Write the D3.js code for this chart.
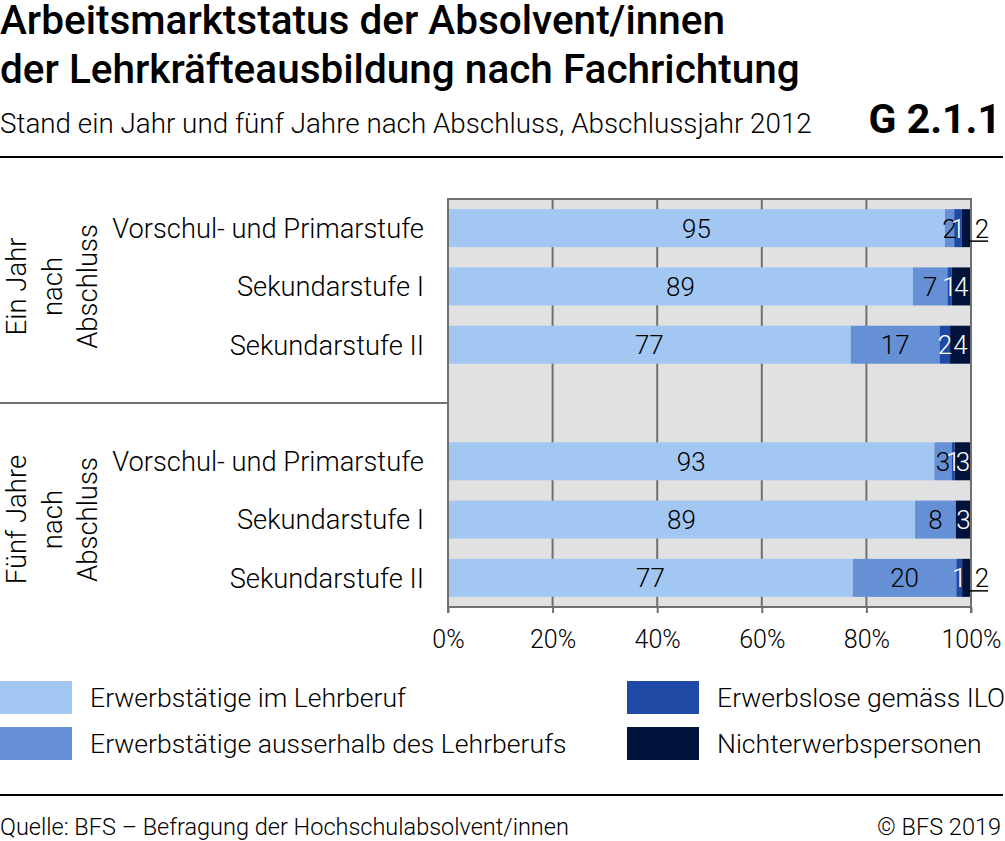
<!DOCTYPE html>
<html>
<head>
<meta charset="utf-8">
<script src="https://cdn.jsdelivr.net/npm/d3@7"></script>
<style>
  html, body { margin: 0; padding: 0; background: #fff; }
  svg { display: block; font-family: Roboto, "Noto Sans", sans-serif; }
</style>
</head>
<body>
<svg id="chart" width="1005" height="841"></svg>
<script>
// ---------- data ----------
const series = ["Erwerbstätige im Lehrberuf", "Erwerbstätige ausserhalb des Lehrberufs", "Erwerbslose gemäss ILO", "Nichterwerbspersonen"];
const colors = ["#a2c7f2", "#6690d6", "#1e4aa6", "#00133a"];
const textColors = ["#000", "#000", "#fff", "#fff"];
const groups = ["Ein Jahr|nach|Abschluss", "Fünf Jahre|nach|Abschluss"];
const categories = ["Vorschul- und Primarstufe", "Sekundarstufe I", "Sekundarstufe II"];
// values per row: [Lehrberuf, ausserhalb, erwerbslos, nichterwerb]
const einJahr = [
  [95.0, 1.8, 1.4, 1.8],
  [88.9, 6.6, 0.8, 3.7],
  [77.0, 17.0, 2.0, 4.0]
];
const fuenfJahre = [
  [93.0, 3.3, 0.6, 3.1],
  [89.3, 7.8, 0.0, 2.9],
  [77.4, 19.8, 1.1, 1.7]
];
const einJahrLabels = [["95","2","1","2"],["89","7","1","4"],["77","17","2","4"]];
const fuenfJahreLabels = [["93","3","1","3"],["89","8","","3"],["77","20","1","2"]];
const outsideLast = [[true,false,false],[false,false,true]];
const ticks = [0, 20, 40, 60, 80, 100];

// ---------- build rows ----------
const rows = [];
[einJahr, fuenfJahre].forEach((g, gi) => {
  g.forEach((vals, ci) => {
    rows.push({key: gi + "-" + ci, group: gi, cat: categories[ci], vals,
      labels: (gi === 0 ? einJahrLabels : fuenfJahreLabels)[ci],
      outside: outsideLast[gi][ci]});
  });
});
const rowKeys = ["0-0","0-1","0-2","gap","1-0","1-1","1-2"];

const svg = d3.select("#chart");
const x = d3.scaleLinear().domain([0, 100]).range([448, 971]);
const y = d3.scaleBand().domain(rowKeys).range([199, 607]).paddingInner(0.348).paddingOuter(0.174);
const grid = "#707070";

// background
svg.append("rect").attr("x", x(0)).attr("y", 199).attr("width", x(100) - x(0)).attr("height", 607 - 199).attr("fill", "#e1e1e1");

// vertical grid lines
svg.append("g").selectAll("line").data(ticks.slice(1)).join("line")
  .attr("x1", d => x(d)).attr("x2", d => x(d)).attr("y1", 199).attr("y2", 607)
  .attr("stroke", grid).attr("stroke-width", 2);

// bars
const barG = svg.append("g");
rows.forEach(r => {
  let acc = 0;
  r.vals.forEach((v, si) => {
    r["s" + si] = [acc, acc + v];
    acc += v;
  });
  barG.selectAll(null).data(r.vals.map((v, si) => ({v, si, r})).filter(d => d.v > 0)).join("rect")
    .attr("x", d => x(d.r["s" + d.si][0]))
    .attr("width", d => x(d.r["s" + d.si][1]) - x(d.r["s" + d.si][0]))
    .attr("y", y(r.key)).attr("height", y.bandwidth())
    .attr("fill", d => colors[d.si]);
});

// top border & axes
svg.append("line").attr("x1", x(0) - 1).attr("x2", x(100) + 1).attr("y1", 199).attr("y2", 199).attr("stroke", grid).attr("stroke-width", 2);
svg.append("line").attr("x1", x(0)).attr("x2", x(0)).attr("y1", 198).attr("y2", 613).attr("stroke", grid).attr("stroke-width", 2);
svg.append("line").attr("x1", x(0)).attr("x2", x(100)).attr("y1", 607).attr("y2", 607).attr("stroke", grid).attr("stroke-width", 2);
svg.append("line").attr("x1", x(100)).attr("x2", x(100)).attr("y1", 198).attr("y2", 613).attr("stroke", grid).attr("stroke-width", 2);

const xAxis = d3.axisBottom(x).tickValues(ticks).tickSize(6).tickFormat(d => d + "%");
const ax = svg.append("g").attr("transform", "translate(0,607)").call(xAxis);
ax.select(".domain").remove();
ax.selectAll(".tick line").attr("stroke", grid).attr("stroke-width", 2);
ax.selectAll(".tick text").attr("font-family", "Roboto").attr("font-weight", 300)
  .attr("font-size", 25).attr("fill", "#000").attr("y", 0).attr("dy", 41);

// value labels
const lblG = svg.append("g").attr("font-size", 26).attr("font-weight", 300).attr("text-anchor", "middle");
rows.forEach(r => {
  const cy = y(r.key) + y.bandwidth() / 2;
  r.vals.forEach((v, si) => {
    const lab = r.labels[si];
    if (!lab || v <= 0) return;
    const [a, b] = r["s" + si];
    if (si === 3 && r.outside) {
      lblG.append("line").attr("x1", x(b) - 3).attr("x2", x(b) + 17).attr("y1", cy + 13).attr("y2", cy + 13)
        .attr("stroke", "#000").attr("stroke-width", 1.5);
      lblG.append("text").attr("x", x(b) + 11).attr("y", cy).attr("dy", "0.36em").attr("fill", "#000").text(lab);
    } else {
      lblG.append("text").attr("x", (x(a) + x(b)) / 2).attr("y", cy).attr("dy", "0.36em")
        .attr("fill", textColors[si]).text(lab);
    }
  });
});

// category labels
svg.append("g").attr("font-size", 27.3).attr("font-weight", 300).attr("text-anchor", "end")
  .selectAll("text").data(rows).join("text")
  .attr("x", 424).attr("y", d => y(d.key) + y.bandwidth() / 2).attr("dy", "0.36em").text(d => d.cat);

// group separator
svg.append("line").attr("x1", 0).attr("x2", x(0)).attr("y1", y("gap") + y.bandwidth() / 2).attr("y2", y("gap") + y.bandwidth() / 2)
  .attr("stroke", grid).attr("stroke-width", 2);

// group labels (rotated)
groups.forEach((g, gi) => {
  const keys = rowKeys.filter(k => k.startsWith(gi + "-"));
  const cy = (y(keys[0]) + y(keys[keys.length - 1]) + y.bandwidth()) / 2;
  const t = svg.append("text").attr("transform", `translate(26,${cy}) rotate(-90)`)
    .attr("text-anchor", "middle").attr("font-size", 27.5).attr("font-weight", 300);
  g.split("|").forEach((line, li) => {
    t.append("tspan").attr("x", 0).attr("y", li * 35.5).text(line);
  });
});

// titles
svg.append("text").attr("x", 0).attr("y", 34).attr("font-size", 40.5).attr("font-weight", 500).text("Arbeitsmarktstatus der Absolvent/innen");
svg.append("text").attr("x", 0).attr("y", 83).attr("font-size", 40.5).attr("font-weight", 500).text("der Lehrkräfteausbildung nach Fachrichtung");
svg.append("text").attr("x", 0).attr("y", 133).attr("font-size", 27.8).attr("font-weight", 300).text("Stand ein Jahr und fünf Jahre nach Abschluss, Abschlussjahr 2012");
svg.append("text").attr("x", 1001).attr("y", 133).attr("text-anchor", "end").attr("font-size", 41).attr("font-weight", 700).text("G 2.1.1");
svg.append("line").attr("x1", 0).attr("x2", 1003).attr("y1", 157).attr("y2", 157).attr("stroke", "#000").attr("stroke-width", 2);

// legend
const legPos = [[0, 681], [0, 727], [627, 681], [627, 727]];
const leg = svg.append("g").selectAll("g").data(series).join("g")
  .attr("transform", (d, i) => `translate(${legPos[i][0]},${legPos[i][1]})`);
leg.append("rect").attr("width", 72).attr("height", 33).attr("fill", (d, i) => colors[i]);
leg.append("text").attr("x", 90).attr("y", 16.5).attr("dy", "0.36em").attr("font-size", 26.6).attr("font-weight", 300).text(d => d);

// footer
svg.append("line").attr("x1", 0).attr("x2", 1003).attr("y1", 795).attr("y2", 795).attr("stroke", "#000").attr("stroke-width", 2);
svg.append("text").attr("x", 0).attr("y", 835).attr("font-size", 23.5).attr("font-weight", 300).text("Quelle: BFS – Befragung der Hochschulabsolvent/innen");
svg.append("text").attr("x", 1001).attr("y", 835).attr("text-anchor", "end").attr("font-size", 23.5).attr("font-weight", 300).text("© BFS 2019");
</script>
</body>
</html>
